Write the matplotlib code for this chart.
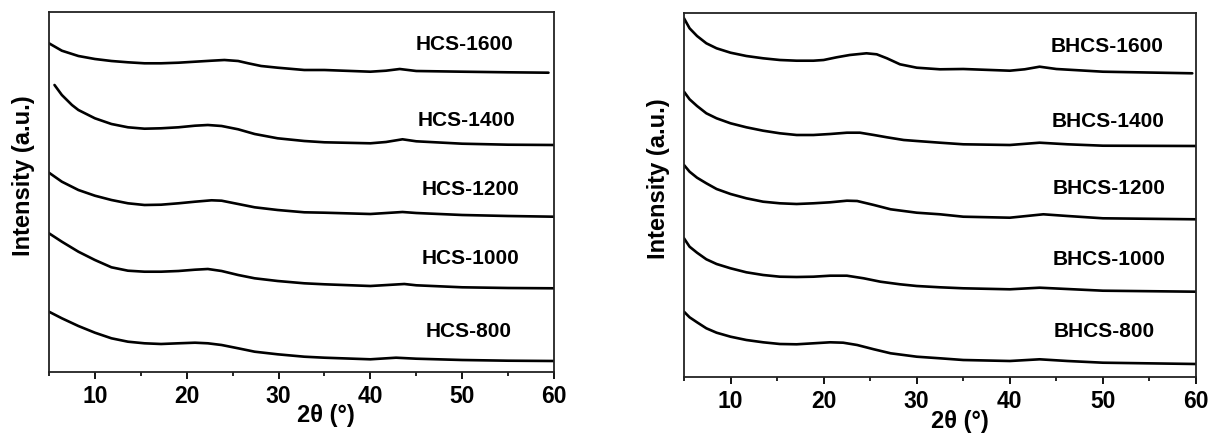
import matplotlib
matplotlib.use("Agg")
import matplotlib.pyplot as plt
from matplotlib.ticker import MultipleLocator

plt.rcParams['font.family'] = ['Liberation Sans', 'DejaVu Sans']
plt.rcParams['font.weight'] = 'bold'

# ---------------- data: left panel (HCS) ----------------
hcs_labels = ["HCS-1600", "HCS-1400", "HCS-1200", "HCS-1000", "HCS-800"]

hcs1600_x = [5, 6.4, 8.2, 10, 11.8, 13.6, 15.4, 17.2, 19.1, 20.9, 22.7, 24.1, 25.6, 26.7, 28.1, 29.9, 32.8, 35, 40, 41.7, 43.2, 45, 50, 55, 59.4]
hcs1600_y = [328.7, 321.3, 316, 313, 311, 309.7, 308.7, 308.7, 309.3, 310.3, 311.3, 312, 311, 308.7, 306, 304.3, 302, 302, 300.3, 301.3, 303, 301, 300.3, 299.7, 299.3]

hcs1400_x = [5.6, 6.4, 7.5, 8.2, 10, 11.8, 13.6, 15.4, 17.2, 19.1, 20.9, 22.3, 23.8, 25.6, 27.4, 29.9, 32.8, 35, 40, 41.7, 43.5, 45, 50, 55, 60]
hcs1400_y = [287, 277, 267, 262, 253.7, 248, 244.7, 243.3, 243.7, 244.7, 246.3, 247, 246, 242.7, 238, 233.7, 231, 229.7, 228.7, 230, 232.7, 230.7, 228.3, 227.3, 227]

hcs1200_x = [5, 6.4, 8.2, 10, 11.8, 13.6, 15.4, 17.2, 19.1, 20.9, 22.7, 23.8, 25.6, 27.4, 29.9, 32.8, 35, 40, 43.5, 45, 50, 55, 60]
hcs1200_y = [199.3, 190.3, 182, 176.3, 172, 168.7, 167, 167.3, 168.7, 170.3, 171.7, 171.3, 168, 164.7, 162, 159.7, 159.3, 158, 160, 159, 157, 156, 155.3]

hcs1000_x = [5, 6.4, 8.2, 10, 11.8, 13.6, 15.4, 17.2, 19.1, 20.9, 22.3, 23.8, 25.6, 27.4, 29.9, 32.8, 35, 40, 43.7, 45, 50, 55, 60]
hcs1000_y = [138.7, 130.3, 120.3, 112, 104.7, 101.3, 100.3, 100.3, 101, 102.3, 103, 101, 97, 93.7, 91, 88.7, 87.7, 86, 88, 86.7, 84.7, 84, 83.7]

hcs800_x = [5, 6.4, 8.2, 10, 11.8, 13.6, 15.4, 17.2, 19.1, 20.9, 22.3, 23.8, 25.6, 27.4, 29.9, 32.8, 35, 40, 42.8, 45, 50, 55, 60]
hcs800_y = [60.3, 53.7, 46, 39.3, 33.7, 30.3, 28.7, 28, 28.7, 29.3, 28.7, 27, 23.7, 20.3, 17.7, 15.3, 14.3, 12.7, 14.3, 13.3, 12, 11.3, 11]

hcs_label_x = [50.3, 50.5, 50.9, 50.9, 50.7]
hcs_label_y = [327, 252, 182, 113.7, 40.3]

# ---------------- data: right panel (BHCS) ----------------
bhcs_labels = ["BHCS-1600", "BHCS-1400", "BHCS-1200", "BHCS-1000", "BHCS-800"]

bhcs1600_x = [5, 5.6, 6.4, 7.4, 8.5, 10, 11.7, 13.5, 15.3, 17.1, 18.9, 20, 21.4, 22.8, 24.6, 25.7, 26.8, 28.2, 30, 32.5, 35, 40, 41.6, 43.2, 45, 50, 59.6]
bhcs1600_y = [358.7, 348.7, 341, 333.7, 328.7, 324.3, 321, 318.7, 317, 316.3, 316.3, 317, 319.7, 322, 323.7, 322.7, 318.7, 312.7, 309.3, 307.7, 308, 306.3, 307.7, 310.3, 308, 305.3, 303.7]

bhcs1400_x = [5, 5.6, 6.4, 7.4, 8.5, 10, 11.7, 13.5, 15.3, 17.1, 18.9, 20.7, 22.5, 23.9, 25.4, 26.8, 28.6, 30, 32.5, 35, 40, 43.2, 46.2, 50, 60]
bhcs1400_y = [285.3, 277.7, 271, 263.7, 258.7, 253.7, 249.7, 246.3, 243.7, 242, 242, 243, 244.3, 244.3, 242, 239.7, 237, 236, 234.3, 232.7, 232, 234.3, 232.7, 231.3, 231]

bhcs1200_x = [5, 5.6, 6.4, 7.4, 8.5, 10, 11.7, 13.5, 15.3, 17.1, 18.9, 20.7, 22.5, 23.6, 25.4, 27.2, 30, 32.5, 35, 40, 43.6, 46.2, 50, 60]
bhcs1200_y = [212, 205.3, 199.3, 193.7, 188, 183, 178.7, 175.3, 173.7, 173, 173.7, 174.7, 176.3, 176, 172, 167.7, 164.3, 162.7, 160.3, 159.3, 162.7, 161, 158.7, 157.7]

bhcs1000_x = [5, 5.6, 6.4, 7.4, 8.5, 10, 11.7, 13.5, 15.3, 17.1, 18.9, 20.7, 22.5, 24.3, 26.1, 28.2, 30, 32.5, 35, 40, 43.2, 50, 60]
bhcs1000_y = [138.7, 130.3, 124.3, 117.7, 113, 108.7, 104.7, 102, 100.3, 100, 100.3, 101.3, 101.3, 98.7, 95.3, 92.7, 91, 89.7, 88.7, 87.7, 89.3, 86.3, 85.3]

bhcs800_x = [5, 5.6, 6.4, 7.4, 8.5, 10, 11.7, 13.5, 15.3, 17.1, 18.9, 20.7, 22.1, 23.6, 25.4, 27.2, 30, 32.5, 35, 40, 43.2, 46.2, 50, 60]
bhcs800_y = [65.3, 59.7, 54.7, 48.7, 44.3, 40.3, 37, 34.7, 33, 32.7, 33.7, 34.7, 34.3, 32, 27.7, 23.7, 20.3, 18.7, 17, 16, 17.7, 16, 14.3, 13]

bhcs_label_x = [50.4, 50.6, 50.7, 50.7, 50.1]
bhcs_label_y = [330.3, 255.3, 188.7, 117.7, 45.3]

xticks = [10, 20, 30, 40, 50, 60]

# ---------------- figure ----------------
fig = plt.figure(figsize=(12.1, 4.34), dpi=100)
axL = fig.add_axes([49/1210, 1-372/434, 505/1210, 360/434])
axR = fig.add_axes([684/1210, 1-377/434, 512/1210, 364/434])

panels = [
    (axL, [(hcs1600_x, hcs1600_y), (hcs1400_x, hcs1400_y), (hcs1200_x, hcs1200_y),
           (hcs1000_x, hcs1000_y), (hcs800_x, hcs800_y)],
     hcs_labels, hcs_label_x, hcs_label_y, 360, 0.549),
    (axR, [(bhcs1600_x, bhcs1600_y), (bhcs1400_x, bhcs1400_y), (bhcs1200_x, bhcs1200_y),
           (bhcs1000_x, bhcs1000_y), (bhcs800_x, bhcs800_y)],
     bhcs_labels, bhcs_label_x, bhcs_label_y, 364, 0.539),
]

for ax, curves, labels, lx, ly, ytop, xlab_x in panels:
    for (x, y) in curves:
        ax.plot(x, y, color='black', lw=1.9, solid_joinstyle='round', solid_capstyle='round')
    for t, px, py in zip(labels, lx, ly):
        ax.text(px, py, t, ha='center', va='center', fontsize=15, fontweight='bold')
    ax.set_xlim(5, 60)
    ax.set_ylim(0, ytop)
    ax.set_yticks([])
    ax.set_xticks(xticks)
    ax.xaxis.set_minor_locator(MultipleLocator(5))
    ax.tick_params(axis='x', which='major', direction='out', length=5, width=1.3,
                   labelsize=16.5, pad=4.5)
    ax.tick_params(axis='x', which='minor', direction='out', length=3, width=1.2)
    for lab in ax.get_xticklabels():
        lab.set_fontweight('bold')
    for sp in ax.spines.values():
        sp.set_linewidth(1.3)
        sp.set_color('#222222')
    ax.set_xlabel('2θ (°)', fontsize=17, fontweight='bold')
    ax.xaxis.set_label_coords(xlab_x, -0.09)
    ax.set_ylabel('Intensity (a.u.)', fontsize=17, fontweight='bold')
    ax.yaxis.set_label_coords(-0.028, 0.545)

fig.savefig('out.png', dpi=100)
